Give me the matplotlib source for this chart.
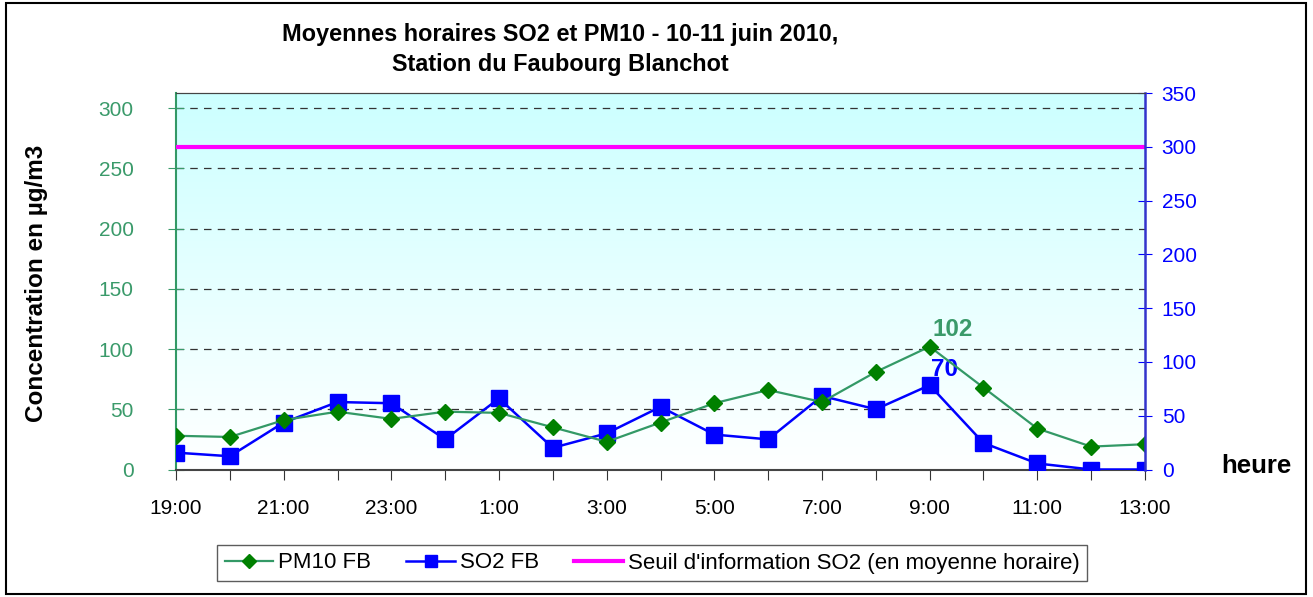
import matplotlib.pyplot as plt
import numpy as np
from matplotlib.patches import Rectangle
from matplotlib.lines import Line2D

plt.rcParams['font.family'] = ['Liberation Sans', 'DejaVu Sans']

hours = ['19:00', '20:00', '21:00', '22:00', '23:00', '0:00', '1:00', '2:00', '3:00',
         '4:00', '5:00', '6:00', '7:00', '8:00', '9:00', '10:00', '11:00', '12:00', '13:00']
pm10 = [28, 27, 41, 48, 42, 48, 47, 35, 23, 39, 55, 66, 56, 81, 102, 68, 34, 19, 21]
so2 = [14, 11, 39, 56, 55, 25, 59, 18, 30, 52, 29, 25, 61, 50, 70, 22, 5, 0, 0]
seuil = 300

green_txt = '#3a9a6a'
green_line = '#339966'
blue = '#0000ff'

fig = plt.figure(figsize=(13.13, 5.97), dpi=100)
ax = fig.add_axes([176/1313, 1-469.5/597, (1145-176)/1313, (469.5-93)/597])
ax2 = ax.twinx()

x = np.arange(len(hours))

# fond en degrade cyan -> blanc
grad = np.linspace(0, 1, 256).reshape(-1, 1)
c_top = np.array([0.80, 1.0, 1.0])
c_bot = np.array([1.0, 1.0, 1.0])
img = c_top[None, None, :] * (1 - grad[:, :, None]) + c_bot[None, None, :] * grad[:, :, None]
ax.imshow(img, extent=[0, 1, 0, 1], transform=ax.transAxes, aspect='auto', zorder=0)

ax.set_xlim(0, len(hours) - 1)
ax.set_ylim(0, 312.5)
ax2.set_ylim(0, 350)

for yv in range(50, 301, 50):
    ax.axhline(yv, color='#333333', ls=(0, (6, 5)), lw=0.9, zorder=1)

ax.plot(x, pm10, color=green_line, lw=1.6, marker='D', ms=8, mfc='#008000', mec='#008000', zorder=4)
ax.plot(x, so2, color=blue, lw=1.8, marker='s', ms=12, mfc=blue, mec=blue, zorder=3)
ax2.axhline(seuil, color='#ff00ff', lw=3, zorder=2)

ax.text(14 + 0.42, 102 + 14, '102', color=green_txt, fontsize=17.5, fontweight='bold', ha='center', va='center')
ax.text(14 + 0.28, 70 + 13, '70', color=blue, fontsize=17.5, fontweight='bold', ha='center', va='center')

ax.set_xticks(x)
ax.set_xticklabels([h if i % 2 == 0 else '' for i, h in enumerate(hours)], fontsize=15)
ax.tick_params(axis='x', direction='out', length=7, color='#333333', pad=14)
ax.set_yticks(range(0, 301, 50))
ax.tick_params(axis='y', direction='inout', length=11, colors=green_txt, labelsize=15, pad=25)
ax2.set_yticks(range(0, 351, 50))
ax2.tick_params(axis='y', direction='inout', length=10, colors=blue, labelsize=15, pad=7)

ax.spines['left'].set_color(green_line)
ax.spines['left'].set_linewidth(1.5)
ax.spines['bottom'].set_color('#444444')
ax.spines['bottom'].set_linewidth(1.5)
ax.spines['top'].set_color('#444444')
ax.spines['right'].set_visible(False)
ax2.spines['right'].set_color('#3333cc')
ax2.spines['right'].set_linewidth(1.8)
ax2.spines['left'].set_visible(False)
ax2.spines['top'].set_color('#444444')
ax2.spines['bottom'].set_visible(False)

fig.text(560/1313, 1-35/597, 'Moyennes horaires SO2 et PM10 - 10-11 juin 2010,', fontsize=16.9,
         fontweight='bold', ha='center', va='center')
fig.text(560/1313, 1-64/597, 'Station du Faubourg Blanchot', fontsize=16.9,
         fontweight='bold', ha='center', va='center')
fig.text(37/1313, 1-283/597, 'Concentration en µg/m3', fontsize=17.5, fontweight='bold',
         rotation=90, ha='center', va='center')
fig.text(1256/1313, 1-466/597, 'heure', fontsize=18.5, fontweight='bold', ha='center', va='center')

handles = [Line2D([], [], color=green_line, lw=1.6, marker='D', ms=7, mfc='#008000', mec='#008000'),
           Line2D([], [], color=blue, lw=1.8, marker='s', ms=8, mfc=blue, mec=blue),
           Line2D([], [], color='#ff00ff', lw=3)]
labels = ['PM10 FB', 'SO2 FB', "Seuil d'information SO2 (en moyenne horaire)"]
leg = fig.legend(handles, labels, loc='center', bbox_to_anchor=(652/1313, 1-563/597), ncol=3,
                 fontsize=16, frameon=True, fancybox=False, edgecolor='#333333',
                 handlelength=2.2, columnspacing=1.6, handletextpad=0.2, borderpad=0.35)
leg.get_frame().set_linewidth(1.0)

fig.patches.append(Rectangle((6/1313, 3/597), 1300/1313, 591/597, transform=fig.transFigure,
                             fill=False, edgecolor='black', lw=1.5))

plt.savefig('out.png', dpi=100)
